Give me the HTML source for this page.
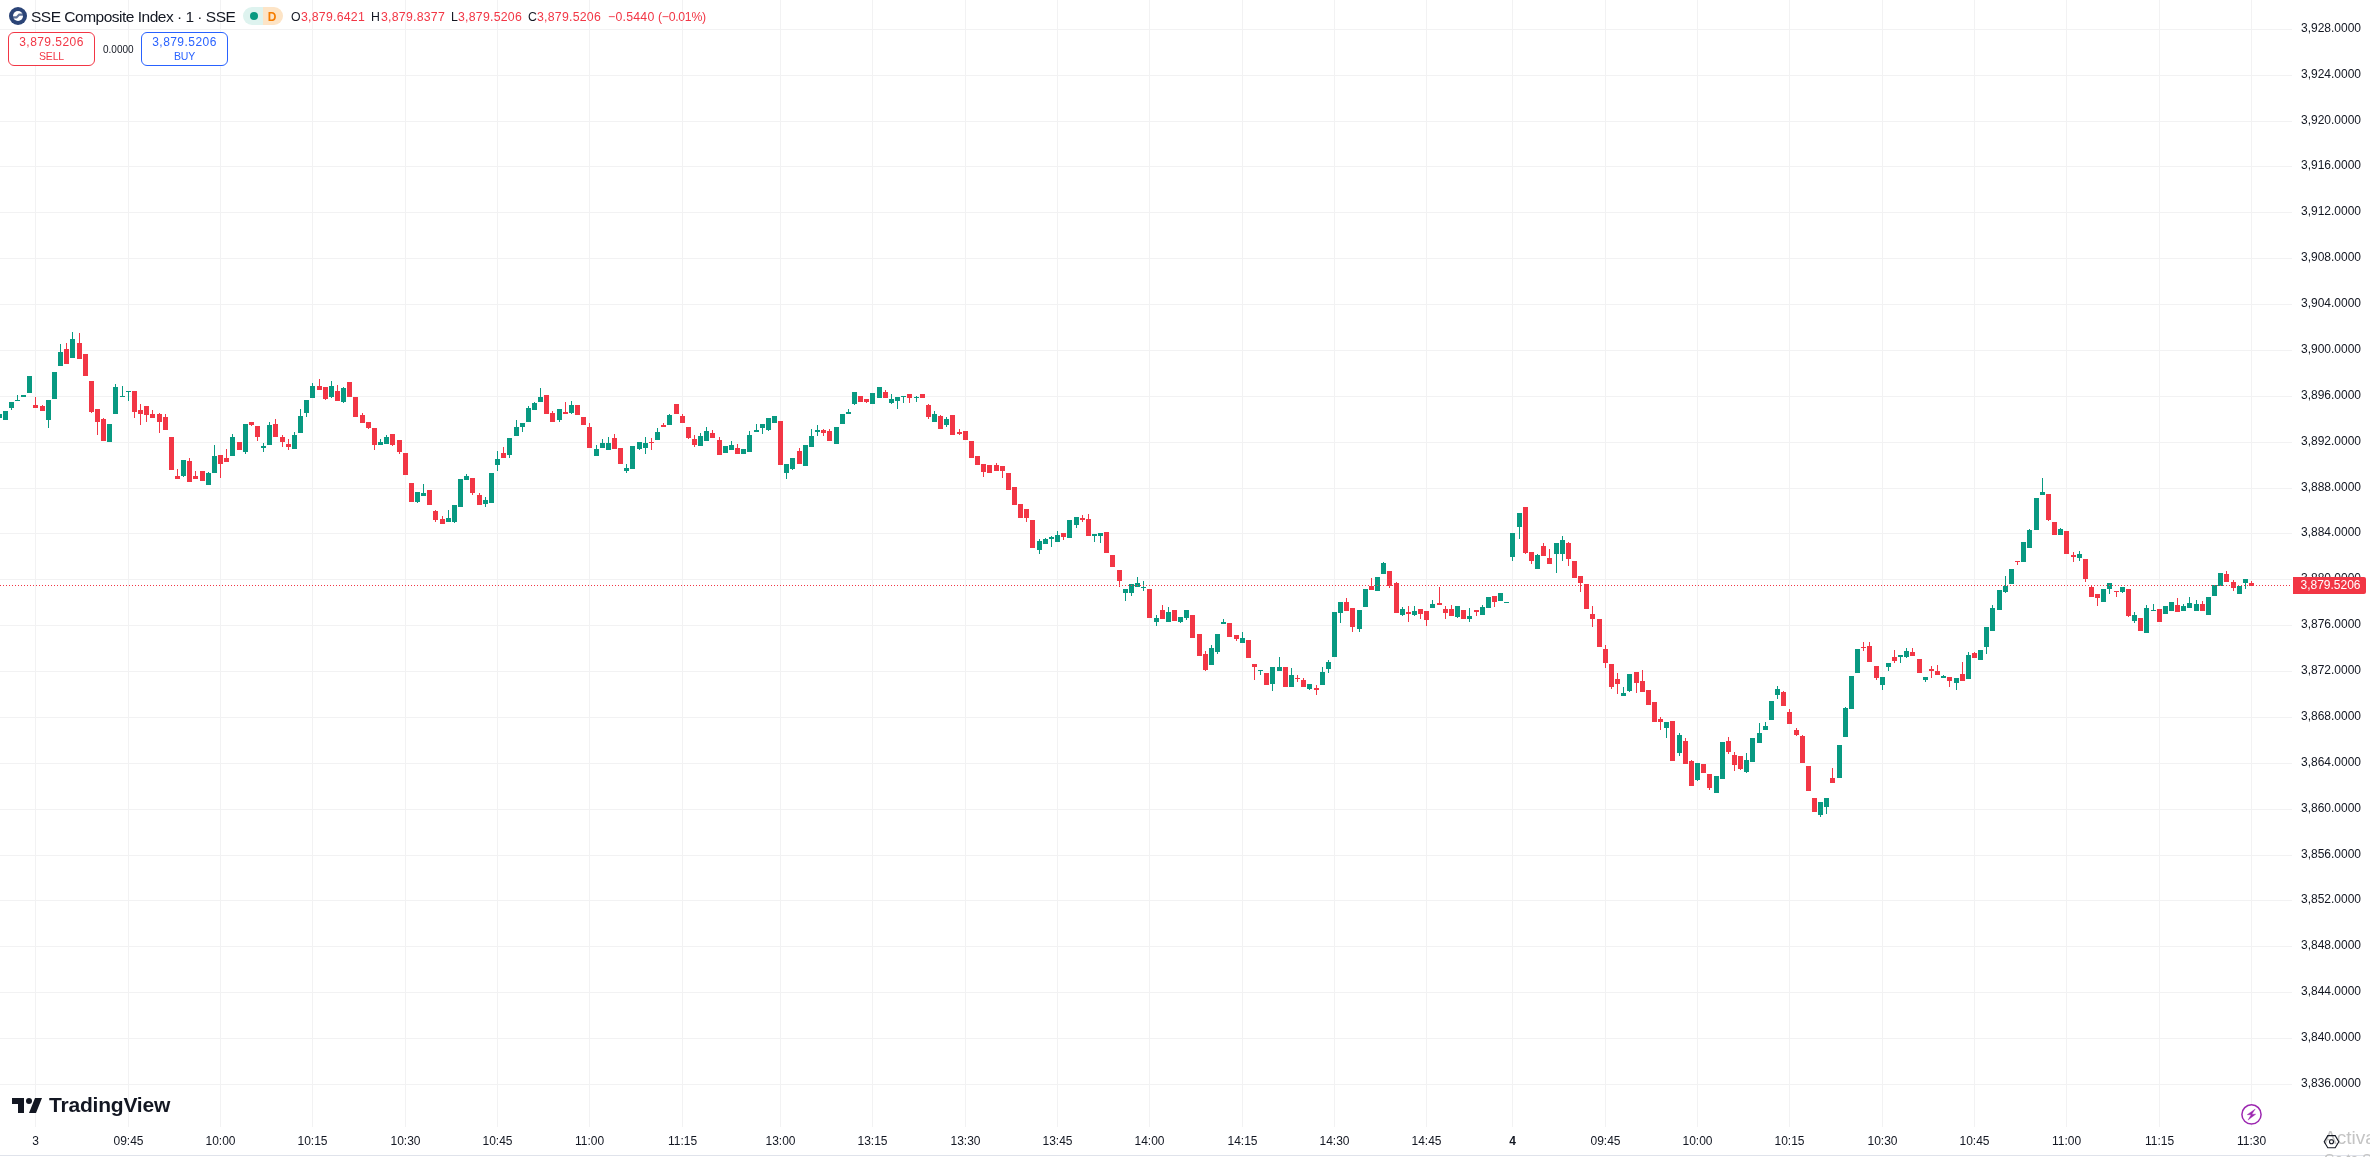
<!DOCTYPE html>
<html><head><meta charset="utf-8">
<style>
html,body{margin:0;padding:0;background:#fff;}
body{width:2370px;height:1157px;overflow:hidden;position:relative;font-family:"Liberation Sans",sans-serif;color:#131722;}
div{will-change:transform;}
svg.chart{position:absolute;left:0;top:0;}
.pl{position:absolute;left:2292px;width:78px;text-align:center;font-size:12px;line-height:18px;height:18px;white-space:nowrap;}
.tl.b{font-weight:bold;}
.tl{position:absolute;top:1132px;width:81px;text-align:center;font-size:12px;line-height:18px;white-space:nowrap;}
.title{position:absolute;left:31px;top:6.5px;font-size:15.5px;letter-spacing:-0.5px;line-height:20px;white-space:nowrap;}
.logo{position:absolute;left:9px;top:7px;width:18px;height:18px;border-radius:50%;background:#2b3b6b;}
.pill{position:absolute;left:243px;top:7px;width:40px;height:18px;border-radius:9px;overflow:hidden;}
.pill .l{position:absolute;left:0;top:0;width:20px;height:18px;background:#def3ef;}
.pill .r{position:absolute;left:20px;top:0;width:20px;height:18px;background:#fde4c6;}
.pill .dot{position:absolute;left:7px;top:5px;width:8px;height:8px;border-radius:50%;background:#089981;}
.pill .d{position:absolute;left:21px;top:1px;width:16px;text-align:center;font-size:12px;line-height:18px;color:#f57c00;font-weight:bold;}
.oh{position:absolute;top:9px;font-size:12.3px;line-height:16px;white-space:nowrap;color:#f23645;letter-spacing:0.25px;}
.oh.k{color:#131722;letter-spacing:0;}
.btn{position:absolute;top:32px;width:85px;height:32px;border:1px solid;border-radius:6px;box-sizing:content-box;text-align:center;background:#fff;}
.btn .v{position:absolute;left:0;right:0;top:2px;font-size:12px;line-height:14px;letter-spacing:0.45px;}
.btn .n{position:absolute;left:0;right:0;top:17px;font-size:10.5px;line-height:13px;letter-spacing:-0.2px;}
.sell{left:8px;border-color:#f23645;color:#f23645;}
.buy{left:141px;border-color:#2962ff;color:#2962ff;}
.spread{position:absolute;left:103px;top:44px;font-size:10px;line-height:12px;}
.lastlbl{position:absolute;left:2293px;top:577px;width:71px;padding-left:2px;height:17px;background:#f23645;color:#fff;font-size:12px;line-height:17px;text-align:center;border-radius:0 2px 2px 0;}
.tv{position:absolute;left:12px;top:1098px;}
.tvtext{position:absolute;left:49px;top:1092px;font-size:21px;font-weight:bold;line-height:26px;letter-spacing:-0.2px;color:#131722;}
.act{position:absolute;left:2324px;top:1127px;font-size:19px;line-height:22px;color:#c4c4c4;white-space:nowrap;}
.act2{position:absolute;left:2324px;top:1151px;font-size:14px;line-height:16px;color:#c4c4c4;white-space:nowrap;}
</style></head><body>
<svg class="chart" width="2370" height="1157" shape-rendering="crispEdges">
<rect x="0" y="29" width="2292" height="1" fill="#f2f2f3"/>
<rect x="0" y="75" width="2292" height="1" fill="#f2f2f3"/>
<rect x="0" y="121" width="2292" height="1" fill="#f2f2f3"/>
<rect x="0" y="166" width="2292" height="1" fill="#f2f2f3"/>
<rect x="0" y="212" width="2292" height="1" fill="#f2f2f3"/>
<rect x="0" y="258" width="2292" height="1" fill="#f2f2f3"/>
<rect x="0" y="304" width="2292" height="1" fill="#f2f2f3"/>
<rect x="0" y="350" width="2292" height="1" fill="#f2f2f3"/>
<rect x="0" y="396" width="2292" height="1" fill="#f2f2f3"/>
<rect x="0" y="442" width="2292" height="1" fill="#f2f2f3"/>
<rect x="0" y="488" width="2292" height="1" fill="#f2f2f3"/>
<rect x="0" y="533" width="2292" height="1" fill="#f2f2f3"/>
<rect x="0" y="579" width="2292" height="1" fill="#f2f2f3"/>
<rect x="0" y="625" width="2292" height="1" fill="#f2f2f3"/>
<rect x="0" y="671" width="2292" height="1" fill="#f2f2f3"/>
<rect x="0" y="717" width="2292" height="1" fill="#f2f2f3"/>
<rect x="0" y="763" width="2292" height="1" fill="#f2f2f3"/>
<rect x="0" y="809" width="2292" height="1" fill="#f2f2f3"/>
<rect x="0" y="855" width="2292" height="1" fill="#f2f2f3"/>
<rect x="0" y="900" width="2292" height="1" fill="#f2f2f3"/>
<rect x="0" y="946" width="2292" height="1" fill="#f2f2f3"/>
<rect x="0" y="992" width="2292" height="1" fill="#f2f2f3"/>
<rect x="0" y="1038" width="2292" height="1" fill="#f2f2f3"/>
<rect x="0" y="1084" width="2292" height="1" fill="#f2f2f3"/>
<rect x="35" y="0" width="1" height="1127" fill="#f2f2f3"/>
<rect x="128" y="0" width="1" height="1127" fill="#f2f2f3"/>
<rect x="220" y="0" width="1" height="1127" fill="#f2f2f3"/>
<rect x="312" y="0" width="1" height="1127" fill="#f2f2f3"/>
<rect x="405" y="0" width="1" height="1127" fill="#f2f2f3"/>
<rect x="497" y="0" width="1" height="1127" fill="#f2f2f3"/>
<rect x="589" y="0" width="1" height="1127" fill="#f2f2f3"/>
<rect x="682" y="0" width="1" height="1127" fill="#f2f2f3"/>
<rect x="780" y="0" width="1" height="1127" fill="#f2f2f3"/>
<rect x="872" y="0" width="1" height="1127" fill="#f2f2f3"/>
<rect x="965" y="0" width="1" height="1127" fill="#f2f2f3"/>
<rect x="1057" y="0" width="1" height="1127" fill="#f2f2f3"/>
<rect x="1149" y="0" width="1" height="1127" fill="#f2f2f3"/>
<rect x="1242" y="0" width="1" height="1127" fill="#f2f2f3"/>
<rect x="1334" y="0" width="1" height="1127" fill="#f2f2f3"/>
<rect x="1426" y="0" width="1" height="1127" fill="#f2f2f3"/>
<rect x="1512" y="0" width="1" height="1127" fill="#f2f2f3"/>
<rect x="1605" y="0" width="1" height="1127" fill="#f2f2f3"/>
<rect x="1697" y="0" width="1" height="1127" fill="#f2f2f3"/>
<rect x="1789" y="0" width="1" height="1127" fill="#f2f2f3"/>
<rect x="1882" y="0" width="1" height="1127" fill="#f2f2f3"/>
<rect x="1974" y="0" width="1" height="1127" fill="#f2f2f3"/>
<rect x="2066" y="0" width="1" height="1127" fill="#f2f2f3"/>
<rect x="2159" y="0" width="1" height="1127" fill="#f2f2f3"/>
<rect x="2251" y="0" width="1" height="1127" fill="#f2f2f3"/>
<rect x="-3" y="414" width="5" height="4" fill="#089981"/>
<rect x="3" y="411" width="5" height="9" fill="#089981"/>
<rect x="11" y="402" width="1" height="8" fill="#089981"/><rect x="9" y="402" width="5" height="6" fill="#089981"/>
<rect x="17" y="395" width="1" height="6" fill="#089981"/><rect x="15" y="400" width="5" height="1" fill="#089981"/>
<rect x="21" y="395" width="5" height="2" fill="#089981"/>
<rect x="27" y="376" width="5" height="17" fill="#089981"/>
<rect x="35" y="397" width="1" height="11" fill="#f23645"/><rect x="33" y="405" width="5" height="3" fill="#f23645"/>
<rect x="42" y="405" width="1" height="6" fill="#f23645"/><rect x="40" y="406" width="5" height="5" fill="#f23645"/>
<rect x="48" y="400" width="1" height="28" fill="#089981"/><rect x="46" y="400" width="5" height="20" fill="#089981"/>
<rect x="52" y="372" width="5" height="27" fill="#089981"/>
<rect x="60" y="344" width="1" height="22" fill="#089981"/><rect x="58" y="352" width="5" height="14" fill="#089981"/>
<rect x="66" y="343" width="1" height="21" fill="#f23645"/><rect x="64" y="349" width="5" height="15" fill="#f23645"/>
<rect x="72" y="332" width="1" height="26" fill="#089981"/><rect x="70" y="339" width="5" height="19" fill="#089981"/>
<rect x="79" y="333" width="1" height="26" fill="#f23645"/><rect x="77" y="343" width="5" height="16" fill="#f23645"/>
<rect x="83" y="354" width="5" height="22" fill="#f23645"/>
<rect x="91" y="381" width="1" height="32" fill="#f23645"/><rect x="89" y="381" width="5" height="31" fill="#f23645"/>
<rect x="97" y="409" width="1" height="26" fill="#f23645"/><rect x="95" y="409" width="5" height="13" fill="#f23645"/>
<rect x="103" y="418" width="1" height="23" fill="#f23645"/><rect x="101" y="419" width="5" height="22" fill="#f23645"/>
<rect x="107" y="424" width="5" height="18" fill="#089981"/>
<rect x="115" y="384" width="1" height="30" fill="#089981"/><rect x="113" y="387" width="5" height="27" fill="#089981"/>
<rect x="122" y="386" width="1" height="11" fill="#089981"/><rect x="120" y="396" width="5" height="1" fill="#089981"/>
<rect x="128" y="391" width="1" height="10" fill="#089981"/><rect x="126" y="391" width="5" height="1" fill="#089981"/>
<rect x="134" y="391" width="1" height="27" fill="#f23645"/><rect x="132" y="391" width="5" height="21" fill="#f23645"/>
<rect x="140" y="404" width="1" height="21" fill="#f23645"/><rect x="138" y="410" width="5" height="4" fill="#f23645"/>
<rect x="146" y="406" width="1" height="16" fill="#f23645"/><rect x="144" y="406" width="5" height="9" fill="#f23645"/>
<rect x="152" y="410" width="1" height="8" fill="#f23645"/><rect x="150" y="414" width="5" height="4" fill="#f23645"/>
<rect x="159" y="413" width="1" height="20" fill="#f23645"/><rect x="157" y="414" width="5" height="8" fill="#f23645"/>
<rect x="165" y="414" width="1" height="16" fill="#f23645"/><rect x="163" y="417" width="5" height="13" fill="#f23645"/>
<rect x="169" y="437" width="5" height="33" fill="#f23645"/>
<rect x="177" y="469" width="1" height="10" fill="#f23645"/><rect x="175" y="476" width="5" height="3" fill="#f23645"/>
<rect x="183" y="460" width="1" height="17" fill="#089981"/><rect x="181" y="460" width="5" height="16" fill="#089981"/>
<rect x="189" y="458" width="1" height="24" fill="#f23645"/><rect x="187" y="461" width="5" height="21" fill="#f23645"/>
<rect x="195" y="471" width="1" height="8" fill="#f23645"/><rect x="193" y="476" width="5" height="3" fill="#f23645"/>
<rect x="200" y="471" width="5" height="10" fill="#f23645"/>
<rect x="208" y="472" width="1" height="13" fill="#089981"/><rect x="206" y="473" width="5" height="12" fill="#089981"/>
<rect x="214" y="445" width="1" height="28" fill="#089981"/><rect x="212" y="456" width="5" height="17" fill="#089981"/>
<rect x="220" y="455" width="1" height="23" fill="#f23645"/><rect x="218" y="455" width="5" height="9" fill="#f23645"/>
<rect x="226" y="449" width="1" height="13" fill="#f23645"/><rect x="224" y="458" width="5" height="4" fill="#f23645"/>
<rect x="232" y="434" width="1" height="22" fill="#089981"/><rect x="230" y="437" width="5" height="19" fill="#089981"/>
<rect x="237" y="442" width="5" height="8" fill="#f23645"/>
<rect x="245" y="424" width="1" height="30" fill="#089981"/><rect x="243" y="424" width="5" height="28" fill="#089981"/>
<rect x="251" y="422" width="1" height="4" fill="#f23645"/><rect x="249" y="422" width="5" height="3" fill="#f23645"/>
<rect x="257" y="426" width="1" height="15" fill="#f23645"/><rect x="255" y="426" width="5" height="11" fill="#f23645"/>
<rect x="263" y="443" width="1" height="9" fill="#089981"/><rect x="261" y="446" width="5" height="2" fill="#089981"/>
<rect x="269" y="422" width="1" height="23" fill="#089981"/><rect x="267" y="425" width="5" height="20" fill="#089981"/>
<rect x="275" y="419" width="1" height="18" fill="#f23645"/><rect x="273" y="424" width="5" height="13" fill="#f23645"/>
<rect x="282" y="435" width="1" height="12" fill="#f23645"/><rect x="280" y="437" width="5" height="5" fill="#f23645"/>
<rect x="288" y="439" width="1" height="11" fill="#f23645"/><rect x="286" y="444" width="5" height="3" fill="#f23645"/>
<rect x="294" y="432" width="1" height="17" fill="#089981"/><rect x="292" y="435" width="5" height="14" fill="#089981"/>
<rect x="300" y="409" width="1" height="24" fill="#089981"/><rect x="298" y="416" width="5" height="17" fill="#089981"/>
<rect x="306" y="400" width="1" height="17" fill="#089981"/><rect x="304" y="400" width="5" height="13" fill="#089981"/>
<rect x="312" y="383" width="1" height="15" fill="#089981"/><rect x="310" y="386" width="5" height="12" fill="#089981"/>
<rect x="319" y="379" width="1" height="11" fill="#f23645"/><rect x="317" y="386" width="5" height="4" fill="#f23645"/>
<rect x="325" y="387" width="1" height="13" fill="#f23645"/><rect x="323" y="387" width="5" height="12" fill="#f23645"/>
<rect x="331" y="381" width="1" height="17" fill="#089981"/><rect x="329" y="386" width="5" height="11" fill="#089981"/>
<rect x="337" y="385" width="1" height="16" fill="#f23645"/><rect x="335" y="391" width="5" height="10" fill="#f23645"/>
<rect x="343" y="387" width="1" height="16" fill="#089981"/><rect x="341" y="388" width="5" height="14" fill="#089981"/>
<rect x="347" y="382" width="5" height="15" fill="#f23645"/>
<rect x="353" y="397" width="5" height="20" fill="#f23645"/>
<rect x="362" y="413" width="1" height="10" fill="#f23645"/><rect x="360" y="415" width="5" height="8" fill="#f23645"/>
<rect x="368" y="422" width="1" height="7" fill="#f23645"/><rect x="366" y="422" width="5" height="6" fill="#f23645"/>
<rect x="374" y="428" width="1" height="22" fill="#f23645"/><rect x="372" y="428" width="5" height="17" fill="#f23645"/>
<rect x="380" y="439" width="1" height="6" fill="#089981"/><rect x="378" y="442" width="5" height="3" fill="#089981"/>
<rect x="386" y="435" width="1" height="9" fill="#089981"/><rect x="384" y="437" width="5" height="7" fill="#089981"/>
<rect x="392" y="434" width="1" height="12" fill="#f23645"/><rect x="390" y="434" width="5" height="11" fill="#f23645"/>
<rect x="399" y="440" width="1" height="14" fill="#f23645"/><rect x="397" y="440" width="5" height="12" fill="#f23645"/>
<rect x="403" y="453" width="5" height="22" fill="#f23645"/>
<rect x="409" y="483" width="5" height="19" fill="#f23645"/>
<rect x="417" y="492" width="1" height="11" fill="#089981"/><rect x="415" y="492" width="5" height="10" fill="#089981"/>
<rect x="423" y="484" width="1" height="12" fill="#089981"/><rect x="421" y="493" width="5" height="3" fill="#089981"/>
<rect x="427" y="490" width="5" height="15" fill="#f23645"/>
<rect x="435" y="510" width="1" height="12" fill="#f23645"/><rect x="433" y="511" width="5" height="9" fill="#f23645"/>
<rect x="442" y="516" width="1" height="8" fill="#f23645"/><rect x="440" y="519" width="5" height="5" fill="#f23645"/>
<rect x="448" y="510" width="1" height="12" fill="#089981"/><rect x="446" y="518" width="5" height="4" fill="#089981"/>
<rect x="454" y="505" width="1" height="18" fill="#089981"/><rect x="452" y="505" width="5" height="17" fill="#089981"/>
<rect x="458" y="479" width="5" height="28" fill="#089981"/>
<rect x="466" y="474" width="1" height="6" fill="#089981"/><rect x="464" y="476" width="5" height="4" fill="#089981"/>
<rect x="472" y="478" width="1" height="17" fill="#f23645"/><rect x="470" y="478" width="5" height="15" fill="#f23645"/>
<rect x="479" y="493" width="1" height="12" fill="#f23645"/><rect x="477" y="495" width="5" height="10" fill="#f23645"/>
<rect x="485" y="497" width="1" height="10" fill="#089981"/><rect x="483" y="500" width="5" height="4" fill="#089981"/>
<rect x="489" y="473" width="5" height="30" fill="#089981"/>
<rect x="497" y="451" width="1" height="20" fill="#089981"/><rect x="495" y="459" width="5" height="6" fill="#089981"/>
<rect x="503" y="447" width="1" height="11" fill="#f23645"/><rect x="501" y="453" width="5" height="5" fill="#f23645"/>
<rect x="509" y="438" width="1" height="20" fill="#089981"/><rect x="507" y="438" width="5" height="17" fill="#089981"/>
<rect x="516" y="420" width="1" height="16" fill="#089981"/><rect x="514" y="427" width="5" height="9" fill="#089981"/>
<rect x="522" y="423" width="1" height="9" fill="#089981"/><rect x="520" y="423" width="5" height="4" fill="#089981"/>
<rect x="528" y="406" width="1" height="16" fill="#089981"/><rect x="526" y="408" width="5" height="14" fill="#089981"/>
<rect x="534" y="402" width="1" height="8" fill="#089981"/><rect x="532" y="403" width="5" height="7" fill="#089981"/>
<rect x="540" y="388" width="1" height="14" fill="#089981"/><rect x="538" y="397" width="5" height="5" fill="#089981"/>
<rect x="544" y="395" width="5" height="19" fill="#f23645"/>
<rect x="552" y="411" width="1" height="11" fill="#f23645"/><rect x="550" y="413" width="5" height="9" fill="#f23645"/>
<rect x="559" y="409" width="1" height="13" fill="#089981"/><rect x="557" y="409" width="5" height="11" fill="#089981"/>
<rect x="565" y="402" width="1" height="12" fill="#f23645"/><rect x="563" y="412" width="5" height="2" fill="#f23645"/>
<rect x="571" y="401" width="1" height="13" fill="#089981"/><rect x="569" y="405" width="5" height="8" fill="#089981"/>
<rect x="575" y="405" width="5" height="10" fill="#f23645"/>
<rect x="581" y="417" width="5" height="8" fill="#f23645"/>
<rect x="589" y="423" width="1" height="25" fill="#f23645"/><rect x="587" y="427" width="5" height="21" fill="#f23645"/>
<rect x="596" y="445" width="1" height="11" fill="#089981"/><rect x="594" y="449" width="5" height="7" fill="#089981"/>
<rect x="602" y="439" width="1" height="9" fill="#089981"/><rect x="600" y="443" width="5" height="5" fill="#089981"/>
<rect x="608" y="437" width="1" height="13" fill="#089981"/><rect x="606" y="443" width="5" height="7" fill="#089981"/>
<rect x="614" y="434" width="1" height="15" fill="#f23645"/><rect x="612" y="438" width="5" height="11" fill="#f23645"/>
<rect x="618" y="448" width="5" height="16" fill="#f23645"/>
<rect x="626" y="464" width="1" height="9" fill="#089981"/><rect x="624" y="468" width="5" height="3" fill="#089981"/>
<rect x="630" y="446" width="5" height="23" fill="#089981"/>
<rect x="639" y="442" width="1" height="8" fill="#089981"/><rect x="637" y="442" width="5" height="7" fill="#089981"/>
<rect x="645" y="437" width="1" height="17" fill="#089981"/><rect x="643" y="443" width="5" height="5" fill="#089981"/>
<rect x="651" y="438" width="1" height="12" fill="#f23645"/><rect x="649" y="442" width="5" height="1" fill="#f23645"/>
<rect x="657" y="428" width="1" height="12" fill="#089981"/><rect x="655" y="432" width="5" height="8" fill="#089981"/>
<rect x="663" y="423" width="1" height="4" fill="#f23645"/><rect x="661" y="425" width="5" height="2" fill="#f23645"/>
<rect x="669" y="414" width="1" height="11" fill="#089981"/><rect x="667" y="415" width="5" height="10" fill="#089981"/>
<rect x="674" y="404" width="5" height="10" fill="#f23645"/>
<rect x="682" y="414" width="1" height="9" fill="#f23645"/><rect x="680" y="416" width="5" height="7" fill="#f23645"/>
<rect x="688" y="427" width="1" height="12" fill="#f23645"/><rect x="686" y="427" width="5" height="11" fill="#f23645"/>
<rect x="694" y="435" width="1" height="12" fill="#f23645"/><rect x="692" y="439" width="5" height="6" fill="#f23645"/>
<rect x="700" y="433" width="1" height="13" fill="#089981"/><rect x="698" y="436" width="5" height="10" fill="#089981"/>
<rect x="706" y="427" width="1" height="14" fill="#089981"/><rect x="704" y="431" width="5" height="10" fill="#089981"/>
<rect x="712" y="430" width="1" height="8" fill="#f23645"/><rect x="710" y="433" width="5" height="5" fill="#f23645"/>
<rect x="719" y="437" width="1" height="18" fill="#f23645"/><rect x="717" y="440" width="5" height="15" fill="#f23645"/>
<rect x="723" y="446" width="5" height="7" fill="#089981"/>
<rect x="731" y="441" width="1" height="9" fill="#089981"/><rect x="729" y="445" width="5" height="5" fill="#089981"/>
<rect x="737" y="444" width="1" height="10" fill="#f23645"/><rect x="735" y="448" width="5" height="6" fill="#f23645"/>
<rect x="741" y="449" width="5" height="5" fill="#089981"/>
<rect x="749" y="431" width="1" height="21" fill="#089981"/><rect x="747" y="435" width="5" height="17" fill="#089981"/>
<rect x="756" y="424" width="1" height="8" fill="#089981"/><rect x="754" y="430" width="5" height="2" fill="#089981"/>
<rect x="762" y="424" width="1" height="10" fill="#089981"/><rect x="760" y="424" width="5" height="4" fill="#089981"/>
<rect x="768" y="418" width="1" height="13" fill="#089981"/><rect x="766" y="418" width="5" height="12" fill="#089981"/>
<rect x="772" y="416" width="5" height="7" fill="#089981"/>
<rect x="778" y="421" width="5" height="44" fill="#f23645"/>
<rect x="786" y="464" width="1" height="15" fill="#089981"/><rect x="784" y="464" width="5" height="9" fill="#089981"/>
<rect x="792" y="458" width="1" height="12" fill="#089981"/><rect x="790" y="458" width="5" height="11" fill="#089981"/>
<rect x="799" y="448" width="1" height="16" fill="#f23645"/><rect x="797" y="451" width="5" height="13" fill="#f23645"/>
<rect x="803" y="445" width="5" height="21" fill="#089981"/>
<rect x="811" y="429" width="1" height="18" fill="#089981"/><rect x="809" y="436" width="5" height="11" fill="#089981"/>
<rect x="817" y="425" width="1" height="11" fill="#089981"/><rect x="815" y="430" width="5" height="2" fill="#089981"/>
<rect x="823" y="429" width="1" height="7" fill="#f23645"/><rect x="821" y="430" width="5" height="3" fill="#f23645"/>
<rect x="829" y="429" width="1" height="12" fill="#f23645"/><rect x="827" y="431" width="5" height="10" fill="#f23645"/>
<rect x="834" y="427" width="5" height="17" fill="#089981"/>
<rect x="840" y="414" width="5" height="10" fill="#089981"/>
<rect x="848" y="409" width="1" height="5" fill="#089981"/><rect x="846" y="412" width="5" height="2" fill="#089981"/>
<rect x="854" y="392" width="1" height="13" fill="#089981"/><rect x="852" y="392" width="5" height="12" fill="#089981"/>
<rect x="858" y="396" width="5" height="6" fill="#f23645"/>
<rect x="866" y="399" width="1" height="4" fill="#f23645"/><rect x="864" y="399" width="5" height="3" fill="#f23645"/>
<rect x="870" y="393" width="5" height="11" fill="#089981"/>
<rect x="877" y="387" width="5" height="11" fill="#089981"/>
<rect x="885" y="390" width="1" height="8" fill="#f23645"/><rect x="883" y="392" width="5" height="6" fill="#f23645"/>
<rect x="891" y="394" width="1" height="10" fill="#089981"/><rect x="889" y="399" width="5" height="4" fill="#089981"/>
<rect x="897" y="397" width="1" height="12" fill="#089981"/><rect x="895" y="397" width="5" height="4" fill="#089981"/>
<rect x="903" y="396" width="1" height="7" fill="#089981"/><rect x="901" y="396" width="5" height="1" fill="#089981"/>
<rect x="909" y="394" width="1" height="9" fill="#f23645"/><rect x="907" y="394" width="5" height="4" fill="#f23645"/>
<rect x="916" y="396" width="1" height="6" fill="#089981"/><rect x="914" y="397" width="5" height="1" fill="#089981"/>
<rect x="920" y="394" width="5" height="4" fill="#f23645"/>
<rect x="928" y="404" width="1" height="15" fill="#f23645"/><rect x="926" y="405" width="5" height="12" fill="#f23645"/>
<rect x="934" y="411" width="1" height="11" fill="#089981"/><rect x="932" y="414" width="5" height="8" fill="#089981"/>
<rect x="940" y="415" width="1" height="14" fill="#f23645"/><rect x="938" y="416" width="5" height="13" fill="#f23645"/>
<rect x="946" y="417" width="1" height="10" fill="#089981"/><rect x="944" y="419" width="5" height="6" fill="#089981"/>
<rect x="950" y="415" width="5" height="20" fill="#f23645"/>
<rect x="959" y="429" width="1" height="6" fill="#f23645"/><rect x="957" y="432" width="5" height="2" fill="#f23645"/>
<rect x="963" y="431" width="5" height="9" fill="#f23645"/>
<rect x="969" y="441" width="5" height="17" fill="#f23645"/>
<rect x="975" y="456" width="5" height="9" fill="#f23645"/>
<rect x="983" y="464" width="1" height="13" fill="#f23645"/><rect x="981" y="464" width="5" height="8" fill="#f23645"/>
<rect x="987" y="465" width="5" height="8" fill="#f23645"/>
<rect x="996" y="463" width="1" height="8" fill="#f23645"/><rect x="994" y="465" width="5" height="6" fill="#f23645"/>
<rect x="1002" y="466" width="1" height="12" fill="#f23645"/><rect x="1000" y="466" width="5" height="5" fill="#f23645"/>
<rect x="1006" y="473" width="5" height="17" fill="#f23645"/>
<rect x="1012" y="487" width="5" height="18" fill="#f23645"/>
<rect x="1018" y="504" width="5" height="14" fill="#f23645"/>
<rect x="1026" y="509" width="1" height="13" fill="#f23645"/><rect x="1024" y="509" width="5" height="9" fill="#f23645"/>
<rect x="1030" y="520" width="5" height="28" fill="#f23645"/>
<rect x="1039" y="539" width="1" height="15" fill="#089981"/><rect x="1037" y="541" width="5" height="9" fill="#089981"/>
<rect x="1045" y="538" width="1" height="6" fill="#089981"/><rect x="1043" y="539" width="5" height="5" fill="#089981"/>
<rect x="1051" y="536" width="1" height="11" fill="#089981"/><rect x="1049" y="537" width="5" height="2" fill="#089981"/>
<rect x="1057" y="531" width="1" height="11" fill="#089981"/><rect x="1055" y="535" width="5" height="7" fill="#089981"/>
<rect x="1063" y="533" width="1" height="7" fill="#f23645"/><rect x="1061" y="533" width="5" height="4" fill="#f23645"/>
<rect x="1067" y="520" width="5" height="18" fill="#089981"/>
<rect x="1076" y="517" width="1" height="11" fill="#089981"/><rect x="1074" y="517" width="5" height="8" fill="#089981"/>
<rect x="1082" y="515" width="1" height="7" fill="#f23645"/><rect x="1080" y="518" width="5" height="2" fill="#f23645"/>
<rect x="1088" y="514" width="1" height="22" fill="#f23645"/><rect x="1086" y="519" width="5" height="17" fill="#f23645"/>
<rect x="1094" y="534" width="1" height="8" fill="#089981"/><rect x="1092" y="534" width="5" height="2" fill="#089981"/>
<rect x="1100" y="533" width="1" height="10" fill="#089981"/><rect x="1098" y="533" width="5" height="3" fill="#089981"/>
<rect x="1104" y="532" width="5" height="21" fill="#f23645"/>
<rect x="1110" y="555" width="5" height="12" fill="#f23645"/>
<rect x="1119" y="570" width="1" height="17" fill="#f23645"/><rect x="1117" y="570" width="5" height="11" fill="#f23645"/>
<rect x="1125" y="589" width="1" height="12" fill="#089981"/><rect x="1123" y="589" width="5" height="4" fill="#089981"/>
<rect x="1131" y="584" width="1" height="12" fill="#089981"/><rect x="1129" y="584" width="5" height="9" fill="#089981"/>
<rect x="1137" y="577" width="1" height="10" fill="#089981"/><rect x="1135" y="583" width="5" height="4" fill="#089981"/>
<rect x="1143" y="581" width="1" height="10" fill="#089981"/><rect x="1141" y="587" width="5" height="1" fill="#089981"/>
<rect x="1147" y="589" width="5" height="29" fill="#f23645"/>
<rect x="1156" y="615" width="1" height="11" fill="#089981"/><rect x="1154" y="618" width="5" height="4" fill="#089981"/>
<rect x="1162" y="605" width="1" height="14" fill="#f23645"/><rect x="1160" y="610" width="5" height="9" fill="#f23645"/>
<rect x="1168" y="607" width="1" height="15" fill="#089981"/><rect x="1166" y="612" width="5" height="10" fill="#089981"/>
<rect x="1172" y="610" width="5" height="11" fill="#f23645"/>
<rect x="1180" y="617" width="1" height="6" fill="#089981"/><rect x="1178" y="617" width="5" height="5" fill="#089981"/>
<rect x="1186" y="610" width="1" height="10" fill="#089981"/><rect x="1184" y="610" width="5" height="8" fill="#089981"/>
<rect x="1190" y="615" width="5" height="23" fill="#f23645"/>
<rect x="1197" y="634" width="5" height="22" fill="#f23645"/>
<rect x="1205" y="651" width="1" height="20" fill="#f23645"/><rect x="1203" y="654" width="5" height="16" fill="#f23645"/>
<rect x="1211" y="645" width="1" height="20" fill="#089981"/><rect x="1209" y="648" width="5" height="17" fill="#089981"/>
<rect x="1217" y="634" width="1" height="20" fill="#089981"/><rect x="1215" y="634" width="5" height="18" fill="#089981"/>
<rect x="1223" y="619" width="1" height="5" fill="#089981"/><rect x="1221" y="622" width="5" height="2" fill="#089981"/>
<rect x="1227" y="623" width="5" height="14" fill="#f23645"/>
<rect x="1236" y="635" width="1" height="6" fill="#f23645"/><rect x="1234" y="635" width="5" height="4" fill="#f23645"/>
<rect x="1242" y="632" width="1" height="11" fill="#089981"/><rect x="1240" y="638" width="5" height="5" fill="#089981"/>
<rect x="1246" y="640" width="5" height="18" fill="#f23645"/>
<rect x="1254" y="664" width="1" height="16" fill="#f23645"/><rect x="1252" y="664" width="5" height="3" fill="#f23645"/>
<rect x="1260" y="670" width="1" height="5" fill="#089981"/><rect x="1258" y="670" width="5" height="1" fill="#089981"/>
<rect x="1264" y="673" width="5" height="12" fill="#f23645"/>
<rect x="1272" y="667" width="1" height="24" fill="#089981"/><rect x="1270" y="667" width="5" height="17" fill="#089981"/>
<rect x="1279" y="657" width="1" height="14" fill="#089981"/><rect x="1277" y="667" width="5" height="4" fill="#089981"/>
<rect x="1283" y="667" width="5" height="20" fill="#f23645"/>
<rect x="1291" y="668" width="1" height="19" fill="#089981"/><rect x="1289" y="675" width="5" height="12" fill="#089981"/>
<rect x="1297" y="675" width="1" height="7" fill="#f23645"/><rect x="1295" y="678" width="5" height="1" fill="#f23645"/>
<rect x="1303" y="678" width="1" height="9" fill="#f23645"/><rect x="1301" y="680" width="5" height="7" fill="#f23645"/>
<rect x="1309" y="684" width="1" height="6" fill="#089981"/><rect x="1307" y="684" width="5" height="5" fill="#089981"/>
<rect x="1316" y="685" width="1" height="10" fill="#f23645"/><rect x="1314" y="688" width="5" height="2" fill="#f23645"/>
<rect x="1322" y="667" width="1" height="18" fill="#089981"/><rect x="1320" y="672" width="5" height="13" fill="#089981"/>
<rect x="1328" y="660" width="1" height="13" fill="#089981"/><rect x="1326" y="662" width="5" height="7" fill="#089981"/>
<rect x="1332" y="612" width="5" height="45" fill="#089981"/>
<rect x="1340" y="602" width="1" height="21" fill="#089981"/><rect x="1338" y="602" width="5" height="11" fill="#089981"/>
<rect x="1346" y="598" width="1" height="13" fill="#f23645"/><rect x="1344" y="602" width="5" height="9" fill="#f23645"/>
<rect x="1352" y="608" width="1" height="24" fill="#f23645"/><rect x="1350" y="608" width="5" height="19" fill="#f23645"/>
<rect x="1359" y="610" width="1" height="22" fill="#089981"/><rect x="1357" y="610" width="5" height="19" fill="#089981"/>
<rect x="1363" y="589" width="5" height="18" fill="#089981"/>
<rect x="1371" y="578" width="1" height="12" fill="#f23645"/><rect x="1369" y="586" width="5" height="4" fill="#f23645"/>
<rect x="1375" y="577" width="5" height="14" fill="#089981"/>
<rect x="1383" y="562" width="1" height="12" fill="#089981"/><rect x="1381" y="563" width="5" height="11" fill="#089981"/>
<rect x="1389" y="571" width="1" height="17" fill="#f23645"/><rect x="1387" y="571" width="5" height="15" fill="#f23645"/>
<rect x="1396" y="582" width="1" height="31" fill="#f23645"/><rect x="1394" y="583" width="5" height="30" fill="#f23645"/>
<rect x="1402" y="607" width="1" height="9" fill="#089981"/><rect x="1400" y="609" width="5" height="6" fill="#089981"/>
<rect x="1408" y="606" width="1" height="16" fill="#f23645"/><rect x="1406" y="612" width="5" height="2" fill="#f23645"/>
<rect x="1414" y="606" width="1" height="10" fill="#089981"/><rect x="1412" y="611" width="5" height="4" fill="#089981"/>
<rect x="1420" y="609" width="1" height="10" fill="#f23645"/><rect x="1418" y="609" width="5" height="5" fill="#f23645"/>
<rect x="1426" y="611" width="1" height="15" fill="#f23645"/><rect x="1424" y="611" width="5" height="9" fill="#f23645"/>
<rect x="1432" y="600" width="1" height="8" fill="#089981"/><rect x="1430" y="604" width="5" height="4" fill="#089981"/>
<rect x="1439" y="587" width="1" height="18" fill="#f23645"/><rect x="1437" y="603" width="5" height="2" fill="#f23645"/>
<rect x="1445" y="606" width="1" height="13" fill="#f23645"/><rect x="1443" y="609" width="5" height="4" fill="#f23645"/>
<rect x="1451" y="605" width="1" height="11" fill="#f23645"/><rect x="1449" y="609" width="5" height="7" fill="#f23645"/>
<rect x="1457" y="606" width="1" height="12" fill="#089981"/><rect x="1455" y="606" width="5" height="11" fill="#089981"/>
<rect x="1461" y="610" width="5" height="9" fill="#f23645"/>
<rect x="1469" y="608" width="1" height="14" fill="#089981"/><rect x="1467" y="616" width="5" height="3" fill="#089981"/>
<rect x="1476" y="610" width="1" height="6" fill="#f23645"/><rect x="1474" y="610" width="5" height="2" fill="#f23645"/>
<rect x="1482" y="605" width="1" height="10" fill="#089981"/><rect x="1480" y="607" width="5" height="8" fill="#089981"/>
<rect x="1486" y="597" width="5" height="11" fill="#089981"/>
<rect x="1494" y="596" width="1" height="11" fill="#f23645"/><rect x="1492" y="596" width="5" height="6" fill="#f23645"/>
<rect x="1498" y="593" width="5" height="8" fill="#089981"/>
<rect x="1504" y="602" width="5" height="1" fill="#089981"/>
<rect x="1512" y="533" width="1" height="28" fill="#089981"/><rect x="1510" y="533" width="5" height="24" fill="#089981"/>
<rect x="1519" y="513" width="1" height="26" fill="#089981"/><rect x="1517" y="513" width="5" height="14" fill="#089981"/>
<rect x="1525" y="507" width="1" height="47" fill="#f23645"/><rect x="1523" y="507" width="5" height="46" fill="#f23645"/>
<rect x="1531" y="552" width="1" height="12" fill="#f23645"/><rect x="1529" y="552" width="5" height="9" fill="#f23645"/>
<rect x="1537" y="554" width="1" height="15" fill="#089981"/><rect x="1535" y="555" width="5" height="14" fill="#089981"/>
<rect x="1543" y="543" width="1" height="13" fill="#f23645"/><rect x="1541" y="546" width="5" height="10" fill="#f23645"/>
<rect x="1549" y="549" width="1" height="15" fill="#f23645"/><rect x="1547" y="558" width="5" height="6" fill="#f23645"/>
<rect x="1556" y="543" width="1" height="30" fill="#089981"/><rect x="1554" y="543" width="5" height="11" fill="#089981"/>
<rect x="1562" y="536" width="1" height="25" fill="#089981"/><rect x="1560" y="540" width="5" height="14" fill="#089981"/>
<rect x="1568" y="542" width="1" height="24" fill="#f23645"/><rect x="1566" y="543" width="5" height="16" fill="#f23645"/>
<rect x="1572" y="561" width="5" height="17" fill="#f23645"/>
<rect x="1580" y="576" width="1" height="16" fill="#f23645"/><rect x="1578" y="576" width="5" height="7" fill="#f23645"/>
<rect x="1584" y="584" width="5" height="25" fill="#f23645"/>
<rect x="1592" y="606" width="1" height="21" fill="#f23645"/><rect x="1590" y="614" width="5" height="5" fill="#f23645"/>
<rect x="1597" y="619" width="5" height="28" fill="#f23645"/>
<rect x="1605" y="645" width="1" height="23" fill="#f23645"/><rect x="1603" y="649" width="5" height="14" fill="#f23645"/>
<rect x="1611" y="664" width="1" height="25" fill="#f23645"/><rect x="1609" y="664" width="5" height="23" fill="#f23645"/>
<rect x="1617" y="673" width="1" height="21" fill="#f23645"/><rect x="1615" y="679" width="5" height="5" fill="#f23645"/>
<rect x="1623" y="687" width="1" height="9" fill="#089981"/><rect x="1621" y="693" width="5" height="3" fill="#089981"/>
<rect x="1629" y="674" width="1" height="18" fill="#089981"/><rect x="1627" y="674" width="5" height="17" fill="#089981"/>
<rect x="1636" y="672" width="1" height="21" fill="#f23645"/><rect x="1634" y="672" width="5" height="11" fill="#f23645"/>
<rect x="1642" y="670" width="1" height="22" fill="#f23645"/><rect x="1640" y="681" width="5" height="11" fill="#f23645"/>
<rect x="1646" y="690" width="5" height="15" fill="#f23645"/>
<rect x="1652" y="702" width="5" height="20" fill="#f23645"/>
<rect x="1660" y="717" width="1" height="13" fill="#f23645"/><rect x="1658" y="719" width="5" height="3" fill="#f23645"/>
<rect x="1666" y="722" width="1" height="16" fill="#089981"/><rect x="1664" y="722" width="5" height="6" fill="#089981"/>
<rect x="1670" y="721" width="5" height="40" fill="#f23645"/>
<rect x="1679" y="733" width="1" height="23" fill="#089981"/><rect x="1677" y="735" width="5" height="18" fill="#089981"/>
<rect x="1685" y="738" width="1" height="26" fill="#f23645"/><rect x="1683" y="741" width="5" height="23" fill="#f23645"/>
<rect x="1691" y="760" width="1" height="26" fill="#f23645"/><rect x="1689" y="761" width="5" height="25" fill="#f23645"/>
<rect x="1697" y="763" width="1" height="18" fill="#089981"/><rect x="1695" y="763" width="5" height="17" fill="#089981"/>
<rect x="1701" y="764" width="5" height="9" fill="#f23645"/>
<rect x="1709" y="774" width="1" height="16" fill="#f23645"/><rect x="1707" y="774" width="5" height="14" fill="#f23645"/>
<rect x="1714" y="776" width="5" height="17" fill="#089981"/>
<rect x="1720" y="742" width="5" height="37" fill="#089981"/>
<rect x="1728" y="737" width="1" height="17" fill="#f23645"/><rect x="1726" y="741" width="5" height="11" fill="#f23645"/>
<rect x="1734" y="752" width="1" height="19" fill="#f23645"/><rect x="1732" y="755" width="5" height="10" fill="#f23645"/>
<rect x="1740" y="756" width="1" height="14" fill="#f23645"/><rect x="1738" y="756" width="5" height="13" fill="#f23645"/>
<rect x="1746" y="753" width="1" height="20" fill="#089981"/><rect x="1744" y="760" width="5" height="12" fill="#089981"/>
<rect x="1750" y="738" width="5" height="24" fill="#089981"/>
<rect x="1759" y="723" width="1" height="20" fill="#089981"/><rect x="1757" y="733" width="5" height="10" fill="#089981"/>
<rect x="1765" y="722" width="1" height="8" fill="#089981"/><rect x="1763" y="726" width="5" height="4" fill="#089981"/>
<rect x="1769" y="701" width="5" height="19" fill="#089981"/>
<rect x="1777" y="686" width="1" height="13" fill="#089981"/><rect x="1775" y="689" width="5" height="6" fill="#089981"/>
<rect x="1783" y="691" width="1" height="15" fill="#f23645"/><rect x="1781" y="692" width="5" height="14" fill="#f23645"/>
<rect x="1789" y="709" width="1" height="15" fill="#f23645"/><rect x="1787" y="712" width="5" height="12" fill="#f23645"/>
<rect x="1796" y="728" width="1" height="8" fill="#f23645"/><rect x="1794" y="730" width="5" height="5" fill="#f23645"/>
<rect x="1802" y="735" width="1" height="28" fill="#f23645"/><rect x="1800" y="736" width="5" height="27" fill="#f23645"/>
<rect x="1806" y="766" width="5" height="25" fill="#f23645"/>
<rect x="1812" y="798" width="5" height="14" fill="#f23645"/>
<rect x="1820" y="802" width="1" height="15" fill="#089981"/><rect x="1818" y="802" width="5" height="13" fill="#089981"/>
<rect x="1826" y="798" width="1" height="16" fill="#089981"/><rect x="1824" y="798" width="5" height="9" fill="#089981"/>
<rect x="1832" y="768" width="1" height="15" fill="#f23645"/><rect x="1830" y="778" width="5" height="5" fill="#f23645"/>
<rect x="1837" y="745" width="5" height="33" fill="#089981"/>
<rect x="1845" y="707" width="1" height="30" fill="#089981"/><rect x="1843" y="708" width="5" height="29" fill="#089981"/>
<rect x="1849" y="676" width="5" height="33" fill="#089981"/>
<rect x="1855" y="649" width="5" height="24" fill="#089981"/>
<rect x="1863" y="642" width="1" height="9" fill="#f23645"/><rect x="1861" y="647" width="5" height="1" fill="#f23645"/>
<rect x="1869" y="642" width="1" height="20" fill="#f23645"/><rect x="1867" y="646" width="5" height="16" fill="#f23645"/>
<rect x="1876" y="666" width="1" height="14" fill="#f23645"/><rect x="1874" y="666" width="5" height="12" fill="#f23645"/>
<rect x="1882" y="677" width="1" height="13" fill="#089981"/><rect x="1880" y="677" width="5" height="8" fill="#089981"/>
<rect x="1888" y="663" width="1" height="8" fill="#089981"/><rect x="1886" y="663" width="5" height="4" fill="#089981"/>
<rect x="1894" y="650" width="1" height="13" fill="#f23645"/><rect x="1892" y="657" width="5" height="4" fill="#f23645"/>
<rect x="1900" y="655" width="1" height="8" fill="#089981"/><rect x="1898" y="655" width="5" height="2" fill="#089981"/>
<rect x="1906" y="648" width="1" height="10" fill="#089981"/><rect x="1904" y="651" width="5" height="6" fill="#089981"/>
<rect x="1912" y="648" width="1" height="8" fill="#f23645"/><rect x="1910" y="652" width="5" height="4" fill="#f23645"/>
<rect x="1917" y="659" width="5" height="14" fill="#f23645"/>
<rect x="1925" y="677" width="1" height="5" fill="#089981"/><rect x="1923" y="677" width="5" height="3" fill="#089981"/>
<rect x="1931" y="666" width="1" height="12" fill="#f23645"/><rect x="1929" y="669" width="5" height="2" fill="#f23645"/>
<rect x="1937" y="665" width="1" height="10" fill="#f23645"/><rect x="1935" y="671" width="5" height="4" fill="#f23645"/>
<rect x="1943" y="675" width="1" height="3" fill="#089981"/><rect x="1941" y="676" width="5" height="2" fill="#089981"/>
<rect x="1949" y="677" width="1" height="10" fill="#f23645"/><rect x="1947" y="677" width="5" height="4" fill="#f23645"/>
<rect x="1956" y="678" width="1" height="12" fill="#089981"/><rect x="1954" y="678" width="5" height="5" fill="#089981"/>
<rect x="1962" y="662" width="1" height="19" fill="#f23645"/><rect x="1960" y="674" width="5" height="7" fill="#f23645"/>
<rect x="1968" y="652" width="1" height="27" fill="#089981"/><rect x="1966" y="655" width="5" height="24" fill="#089981"/>
<rect x="1974" y="652" width="1" height="6" fill="#f23645"/><rect x="1972" y="653" width="5" height="5" fill="#f23645"/>
<rect x="1978" y="650" width="5" height="10" fill="#089981"/>
<rect x="1986" y="627" width="1" height="27" fill="#089981"/><rect x="1984" y="627" width="5" height="20" fill="#089981"/>
<rect x="1992" y="605" width="1" height="26" fill="#089981"/><rect x="1990" y="608" width="5" height="23" fill="#089981"/>
<rect x="1997" y="590" width="5" height="20" fill="#089981"/>
<rect x="2005" y="576" width="1" height="17" fill="#089981"/><rect x="2003" y="586" width="5" height="6" fill="#089981"/>
<rect x="2009" y="569" width="5" height="15" fill="#089981"/>
<rect x="2017" y="561" width="1" height="4" fill="#f23645"/><rect x="2015" y="561" width="5" height="1" fill="#f23645"/>
<rect x="2021" y="542" width="5" height="20" fill="#089981"/>
<rect x="2029" y="529" width="1" height="19" fill="#089981"/><rect x="2027" y="530" width="5" height="18" fill="#089981"/>
<rect x="2034" y="498" width="5" height="32" fill="#089981"/>
<rect x="2042" y="478" width="1" height="17" fill="#089981"/><rect x="2040" y="492" width="5" height="3" fill="#089981"/>
<rect x="2048" y="494" width="1" height="27" fill="#f23645"/><rect x="2046" y="494" width="5" height="26" fill="#f23645"/>
<rect x="2052" y="522" width="5" height="13" fill="#f23645"/>
<rect x="2060" y="528" width="1" height="7" fill="#089981"/><rect x="2058" y="529" width="5" height="6" fill="#089981"/>
<rect x="2064" y="531" width="5" height="23" fill="#f23645"/>
<rect x="2073" y="552" width="1" height="10" fill="#f23645"/><rect x="2071" y="555" width="5" height="2" fill="#f23645"/>
<rect x="2079" y="551" width="1" height="10" fill="#089981"/><rect x="2077" y="554" width="5" height="4" fill="#089981"/>
<rect x="2085" y="559" width="1" height="23" fill="#f23645"/><rect x="2083" y="559" width="5" height="20" fill="#f23645"/>
<rect x="2091" y="586" width="1" height="11" fill="#f23645"/><rect x="2089" y="587" width="5" height="10" fill="#f23645"/>
<rect x="2097" y="594" width="1" height="12" fill="#f23645"/><rect x="2095" y="594" width="5" height="4" fill="#f23645"/>
<rect x="2101" y="589" width="5" height="13" fill="#089981"/>
<rect x="2109" y="583" width="1" height="11" fill="#089981"/><rect x="2107" y="583" width="5" height="6" fill="#089981"/>
<rect x="2116" y="591" width="1" height="6" fill="#f23645"/><rect x="2114" y="591" width="5" height="1" fill="#f23645"/>
<rect x="2122" y="587" width="1" height="6" fill="#089981"/><rect x="2120" y="587" width="5" height="5" fill="#089981"/>
<rect x="2128" y="589" width="1" height="28" fill="#f23645"/><rect x="2126" y="589" width="5" height="27" fill="#f23645"/>
<rect x="2134" y="612" width="1" height="11" fill="#089981"/><rect x="2132" y="615" width="5" height="6" fill="#089981"/>
<rect x="2138" y="618" width="5" height="13" fill="#f23645"/>
<rect x="2146" y="605" width="1" height="28" fill="#089981"/><rect x="2144" y="608" width="5" height="25" fill="#089981"/>
<rect x="2153" y="604" width="1" height="7" fill="#089981"/><rect x="2151" y="610" width="5" height="1" fill="#089981"/>
<rect x="2157" y="609" width="5" height="13" fill="#f23645"/>
<rect x="2163" y="606" width="5" height="8" fill="#089981"/>
<rect x="2169" y="602" width="5" height="9" fill="#089981"/>
<rect x="2177" y="598" width="1" height="14" fill="#f23645"/><rect x="2175" y="605" width="5" height="7" fill="#f23645"/>
<rect x="2183" y="604" width="1" height="7" fill="#089981"/><rect x="2181" y="606" width="5" height="5" fill="#089981"/>
<rect x="2189" y="597" width="1" height="11" fill="#089981"/><rect x="2187" y="603" width="5" height="5" fill="#089981"/>
<rect x="2196" y="600" width="1" height="11" fill="#089981"/><rect x="2194" y="604" width="5" height="7" fill="#089981"/>
<rect x="2202" y="601" width="1" height="10" fill="#f23645"/><rect x="2200" y="604" width="5" height="7" fill="#f23645"/>
<rect x="2206" y="597" width="5" height="18" fill="#089981"/>
<rect x="2212" y="585" width="5" height="11" fill="#089981"/>
<rect x="2218" y="573" width="5" height="13" fill="#089981"/>
<rect x="2226" y="571" width="1" height="11" fill="#f23645"/><rect x="2224" y="574" width="5" height="8" fill="#f23645"/>
<rect x="2233" y="580" width="1" height="11" fill="#f23645"/><rect x="2231" y="582" width="5" height="6" fill="#f23645"/>
<rect x="2237" y="586" width="5" height="8" fill="#089981"/>
<rect x="2245" y="579" width="1" height="10" fill="#089981"/><rect x="2243" y="579" width="5" height="4" fill="#089981"/>
<rect x="2251" y="581" width="1" height="5" fill="#f23645"/><rect x="2249" y="583" width="5" height="3" fill="#f23645"/>
<line x1="0" y1="585.5" x2="2292" y2="585.5" stroke="#f23645" stroke-width="1" stroke-dasharray="1 2"/>
<rect x="0" y="1155" width="2370" height="1" fill="#e0e3eb"/>
</svg>
<div class="pl" style="top:19px">3,928.0000</div>
<div class="pl" style="top:65px">3,924.0000</div>
<div class="pl" style="top:111px">3,920.0000</div>
<div class="pl" style="top:156px">3,916.0000</div>
<div class="pl" style="top:202px">3,912.0000</div>
<div class="pl" style="top:248px">3,908.0000</div>
<div class="pl" style="top:294px">3,904.0000</div>
<div class="pl" style="top:340px">3,900.0000</div>
<div class="pl" style="top:386px">3,896.0000</div>
<div class="pl" style="top:432px">3,892.0000</div>
<div class="pl" style="top:478px">3,888.0000</div>
<div class="pl" style="top:523px">3,884.0000</div>
<div class="pl" style="top:569px">3,880.0000</div>
<div class="pl" style="top:615px">3,876.0000</div>
<div class="pl" style="top:661px">3,872.0000</div>
<div class="pl" style="top:707px">3,868.0000</div>
<div class="pl" style="top:753px">3,864.0000</div>
<div class="pl" style="top:799px">3,860.0000</div>
<div class="pl" style="top:845px">3,856.0000</div>
<div class="pl" style="top:890px">3,852.0000</div>
<div class="pl" style="top:936px">3,848.0000</div>
<div class="pl" style="top:982px">3,844.0000</div>
<div class="pl" style="top:1028px">3,840.0000</div>
<div class="pl" style="top:1074px">3,836.0000</div>
<div class="tl" style="left:-5px">3</div>
<div class="tl" style="left:88px">09:45</div>
<div class="tl" style="left:180px">10:00</div>
<div class="tl" style="left:272px">10:15</div>
<div class="tl" style="left:365px">10:30</div>
<div class="tl" style="left:457px">10:45</div>
<div class="tl" style="left:549px">11:00</div>
<div class="tl" style="left:642px">11:15</div>
<div class="tl" style="left:740px">13:00</div>
<div class="tl" style="left:832px">13:15</div>
<div class="tl" style="left:925px">13:30</div>
<div class="tl" style="left:1017px">13:45</div>
<div class="tl" style="left:1109px">14:00</div>
<div class="tl" style="left:1202px">14:15</div>
<div class="tl" style="left:1294px">14:30</div>
<div class="tl" style="left:1386px">14:45</div>
<div class="tl b" style="left:1472px">4</div>
<div class="tl" style="left:1565px">09:45</div>
<div class="tl" style="left:1657px">10:00</div>
<div class="tl" style="left:1749px">10:15</div>
<div class="tl" style="left:1842px">10:30</div>
<div class="tl" style="left:1934px">10:45</div>
<div class="tl" style="left:2026px">11:00</div>
<div class="tl" style="left:2119px">11:15</div>
<div class="tl" style="left:2211px">11:30</div>
<div class="lastlbl">3,879.5206</div>
<svg style="position:absolute;left:9px;top:7px" width="18" height="18" viewBox="0 0 18 18"><circle cx="9" cy="9" r="9" fill="#2b4477"/><circle cx="9" cy="9" r="5" fill="#fff"/><path d="M4 9.2h3.2l2.6-2.6H14v2.2h-3.4l-2.6 2.6H4z" fill="#2b4477" opacity="0.75"/></svg>
<div class="title">SSE Composite Index · 1 · SSE</div>
<div class="pill"><div class="l"></div><div class="r"></div><div class="dot"></div><div class="d">D</div></div>
<div class="oh k" style="left:291px">O</div><div class="oh" style="left:301px">3,879.6421</div>
<div class="oh k" style="left:371px">H</div><div class="oh" style="left:381px">3,879.8377</div>
<div class="oh k" style="left:451px">L</div><div class="oh" style="left:458px">3,879.5206</div>
<div class="oh k" style="left:528px">C</div><div class="oh" style="left:537px">3,879.5206</div>
<div class="oh" style="left:608px">−0.5440</div><div class="oh" style="left:658px;letter-spacing:-0.3px">(−0.01%)</div>
<div class="btn sell"><div class="v">3,879.5206</div><div class="n">SELL</div></div>
<div class="spread">0.0000</div>
<div class="btn buy"><div class="v">3,879.5206</div><div class="n">BUY</div></div>
<svg class="tv" width="30" height="17" viewBox="0 0 30 17"><path d="M0 0h12v15H6V6H0z" fill="#131722"/><circle cx="17" cy="3" r="3" fill="#131722"/><path d="M23 0h7l-6 15h-7z" fill="#131722"/></svg>
<div class="tvtext">TradingView</div>
<svg style="position:absolute;left:2240px;top:1103px" width="24" height="24" viewBox="0 0 24 24"><circle cx="11.5" cy="11.4" r="9.6" fill="#fff" stroke="#9c27b0" stroke-width="1.5"/><path d="M15.2 6.1 L7.2 11.7 H11.2 L8 17.1 L15.7 11.2 H11.8 Z" fill="#9c27b0" stroke="#9c27b0" stroke-width="0.4" stroke-linejoin="round"/></svg>
<div class="act">Activa</div>
<div class="act2">Go to Settings</div>
<svg style="position:absolute;left:2322px;top:1133px" width="19" height="17" viewBox="0 0 19 17"><path d="M5.8 2.6h7.4l3.6 6.1-3.6 6.1H5.8l-3.6-6.1z" fill="none" stroke="#131722" stroke-width="1.1"/><circle cx="9.5" cy="8.7" r="2" fill="none" stroke="#131722" stroke-width="1.1"/></svg>

</body></html>
